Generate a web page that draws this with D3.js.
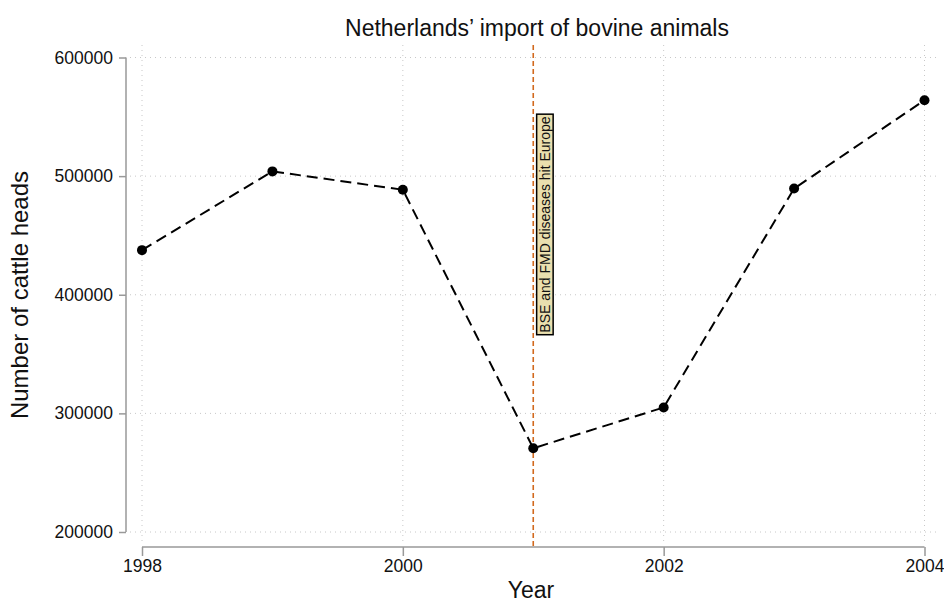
<!DOCTYPE html>
<html>
<head>
<meta charset="utf-8">
<script src="https://cdn.jsdelivr.net/npm/d3@7"></script>
<style>
  body { margin: 0; background: #fff; }
  text { font-family: "Liberation Sans", Arial, Helvetica, sans-serif; }
</style>
</head>
<body>
<svg id="chart" width="944" height="605"></svg>
<script>
const years = [1998, 1999, 2000, 2001, 2002, 2003, 2004];
const imports = [437600, 504000, 488500, 270600, 305000, 489500, 564000];
const xTicks = [1998, 2000, 2002, 2004];
const yTicks = [200000, 300000, 400000, 500000, 600000];
const eventYear = [2001];
const eventLabel = ["BSE and FMD diseases hit Europe"];
const eventLabelValue = [368000];

const svg = d3.select("#chart");

const x = d3.scaleLinear().domain([1998, 2004]).range([142, 924.5]);
const y = d3.scaleLinear().domain([200000, 600000]).range([532, 57.5]);

const plotTop = 45, plotBottom = 547, plotLeft = 126, plotRight = 936;

// gridlines
svg.append("g").selectAll("line.hg").data(yTicks).join("line")
  .attr("x1", plotLeft + 4).attr("x2", plotRight)
  .attr("y1", d => y(d)).attr("y2", d => y(d))
  .attr("stroke", "#c8c8c8").attr("stroke-width", 1).attr("stroke-dasharray", "1,4");
svg.append("g").selectAll("line.vg").data(xTicks).join("line")
  .attr("x1", d => x(d)).attr("x2", d => x(d))
  .attr("y1", plotTop).attr("y2", plotBottom - 2)
  .attr("stroke", "#c8c8c8").attr("stroke-width", 1).attr("stroke-dasharray", "1,4");

// y axis
const yAxis = d3.axisLeft(y).tickValues(yTicks).tickFormat(d3.format("d")).tickSize(7).tickPadding(6);
const gy = svg.append("g").attr("transform", `translate(${plotLeft},0)`).call(yAxis);
gy.select(".domain").attr("stroke", "#999").attr("stroke-width", 1.5).attr("d", `M0,${y(600000)}V${y(200000)}`);
gy.selectAll(".tick line").attr("stroke", "#999").attr("stroke-width", 1.5);
gy.selectAll(".tick text").attr("font-size", 17.5).attr("fill", "#111")
  .attr("font-family", "Liberation Sans, Arial, sans-serif");

// x axis
const xAxis = d3.axisBottom(x).tickValues(xTicks).tickFormat(d3.format("d")).tickSize(9).tickPadding(4);
const gx = svg.append("g").attr("transform", `translate(0,${plotBottom})`).call(xAxis);
gx.select(".domain").attr("stroke", "#999").attr("stroke-width", 1.5).attr("d", `M${x(1998)},0H${x(2004)}`);
gx.selectAll(".tick line").attr("stroke", "#999").attr("stroke-width", 1.5);
gx.selectAll(".tick text").attr("font-size", 17.5).attr("fill", "#111")
  .attr("font-family", "Liberation Sans, Arial, sans-serif");

// event line
svg.append("g").selectAll("line.ev").data(eventYear).join("line")
  .attr("x1", d => x(d)).attr("x2", d => x(d))
  .attr("y1", plotTop).attr("y2", plotBottom)
  .attr("stroke", "#d2691e").attr("stroke-width", 1.6).attr("stroke-dasharray", "5,3");

// data line
const line = d3.line().x((d, i) => x(years[i])).y(d => y(d));
svg.append("path").datum(imports)
  .attr("d", line).attr("fill", "none")
  .attr("stroke", "#000").attr("stroke-width", 2).attr("stroke-dasharray", "11,6");
svg.append("g").selectAll("circle").data(imports).join("circle")
  .attr("cx", (d, i) => x(years[i])).attr("cy", d => y(d)).attr("r", 5).attr("fill", "#000");

// annotation
const ann = svg.append("g")
  .attr("transform", `translate(${x(eventYear[0]) + 12},${y(eventLabelValue[0])}) rotate(-90)`);
const annText = ann.append("text").text(eventLabel[0])
  .attr("x", 0).attr("y", 0).attr("dy", "0.35em")
  .attr("font-size", 14).attr("fill", "#111");
const bb = annText.node().getBBox();
ann.insert("rect", "text")
  .attr("x", bb.x - 2).attr("y", bb.y - 0.5)
  .attr("width", bb.width + 4).attr("height", bb.height + 0.5)
  .attr("fill", "#eadfae").attr("stroke", "#000").attr("stroke-width", 1.5);

// title and labels
svg.append("text").attr("x", 537).attr("y", 36).attr("text-anchor", "middle")
  .attr("font-size", 23).attr("fill", "#111").text("Netherlands’ import of bovine animals");
svg.append("text").attr("x", 531).attr("y", 598).attr("text-anchor", "middle")
  .attr("font-size", 23).attr("fill", "#111").text("Year");
svg.append("text").attr("transform", `translate(28,295) rotate(-90)`).attr("text-anchor", "middle")
  .attr("font-size", 24).attr("fill", "#111").text("Number of cattle heads");
</script>
</body>
</html>
